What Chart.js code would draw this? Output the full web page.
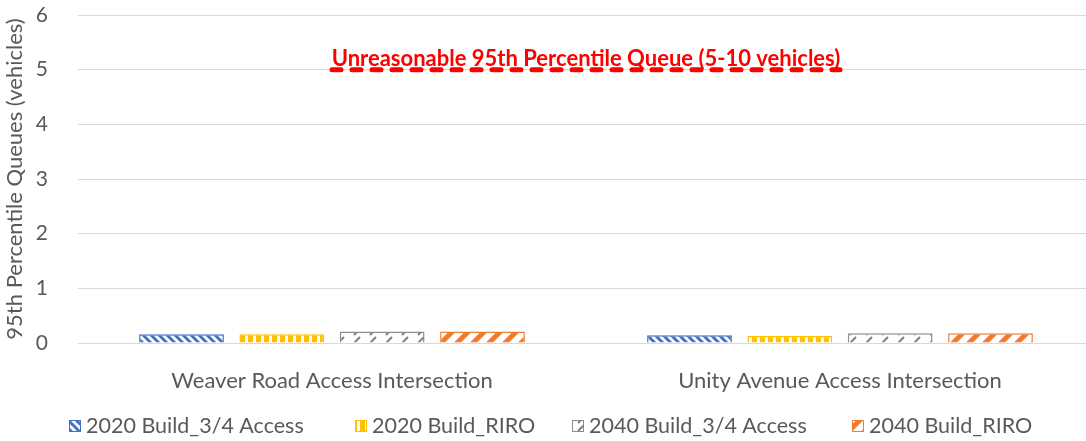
<!DOCTYPE html>
<html>
<head>
<meta charset="utf-8">
<script src="https://cdn.jsdelivr.net/npm/chart.js@4"></script>
<style>
  html, body { margin: 0; padding: 0; background: #fff; overflow: hidden; }
  /* the original plot area runs a few pixels past the right edge of the picture */
  #wrap { width: 1094px; height: 441px; position: relative; }
</style>
</head>
<body>
<div id="wrap"><canvas id="queueChart"></canvas></div>
<script>
  'use strict';

  // data
  var categories = ['Weaver Road Access Intersection', 'Unity Avenue Access Intersection'];
  var seriesNames = ['2020 Build_3/4 Access', '2020 Build_RIRO', '2040 Build_3/4 Access', '2040 Build_RIRO'];
  var build2020Access = [0.16, 0.14];
  var build2020Riro = [0.16, 0.13];
  var build2040Access = [0.21, 0.18];
  var build2040Riro = [0.21, 0.18];
  var thresholdValues = [5, 5];
  var thresholdLabel = 'Unreasonable 95th Percentile Queue (5-10 vehicles)';

  var font = "Lato, 'Open Sans', sans-serif";
  var textColor = '#595959';

  function makePattern(w, h, color, draw) {
    var c = document.createElement('canvas');
    c.width = w; c.height = h;
    var g = c.getContext('2d');
    g.fillStyle = '#ffffff';
    g.fillRect(0, 0, w, h);
    g.fillStyle = color;
    g.strokeStyle = color;
    draw(g, w, h);
    return document.createElement('canvas').getContext('2d').createPattern(c, 'repeat');
  }

  var blueFill = makePattern(8, 8, '#4472c4', function (g, s) {
    g.lineWidth = 3;
    g.beginPath();
    g.moveTo(0, 0); g.lineTo(s, s);
    g.moveTo(-s, 0); g.lineTo(s, 2 * s);
    g.moveTo(0, -s); g.lineTo(2 * s, s);
    g.stroke();
  });
  var yellowFill = makePattern(8, 8, '#ffc000', function (g, w, h) {
    g.fillRect(0, 0, 5, h);
  });
  var grayFill = makePattern(16, 8, '#7f7f7f', function (g) {
    g.lineWidth = 2;
    g.beginPath();
    g.moveTo(2, 7); g.lineTo(8, 1);
    g.stroke();
  });
  var orangeFill = makePattern(16, 16, '#ed7d31', function (g, s) {
    g.lineWidth = 5;
    g.beginPath();
    g.moveTo(0, s); g.lineTo(s, 0);
    g.moveTo(-s / 2, s / 2); g.lineTo(s / 2, -s / 2);
    g.moveTo(s / 2, s * 1.5); g.lineTo(s * 1.5, s / 2);
    g.stroke();
  });
  var fills = [blueFill, yellowFill, grayFill, orangeFill];
  var borders = ['#4472c4', '#ffc000', '#8c8c8c', '#ed7d31'];

  function barSet(i, data) {
    return {
      type: 'bar',
      label: seriesNames[i],
      data: data,
      backgroundColor: fills[i],
      borderColor: borders[i],
      borderWidth: 1.5,
      categoryPercentage: 0.79,
      barPercentage: 0.845,
      order: 2
    };
  }

  // threshold caption above the dashed line, plus a legend spaced like the original
  var extrasPlugin = {
    id: 'extras',
    afterDatasetsDraw: function (chart) {
      var meta = chart.getDatasetMeta(4);
      var p0 = meta.data[0], p1 = meta.data[meta.data.length - 1];
      var g = chart.ctx;
      g.save();
      g.font = "bold 22px " + font;
      g.fillStyle = '#ff0000';
      g.textAlign = 'center';
      g.textBaseline = 'alphabetic';
      g.fillText(thresholdLabel, (p0.x + p1.x) / 2, p0.y - 4);
      g.restore();
    },
    afterDraw: function (chart) {
      var g = chart.ctx;
      var starts = [69, 355, 572, 852];
      var y = 426;
      g.save();
      g.font = "21.5px " + font;
      g.textBaseline = 'middle';
      g.textAlign = 'left';
      for (var i = 0; i < seriesNames.length; i++) {
        var x = starts[i];
        g.fillStyle = fills[i];
        g.fillRect(x, y - 6, 12, 12);
        g.strokeStyle = borders[i];
        g.lineWidth = 1;
        g.strokeRect(x + 0.5, y - 5.5, 11, 11);
        g.fillStyle = textColor;
        g.fillText(seriesNames[i], x + 17, y);
      }
      g.restore();
    }
  };

  new Chart(document.getElementById('queueChart'), {
    data: {
      labels: categories,
      datasets: [
        barSet(0, build2020Access),
        barSet(1, build2020Riro),
        barSet(2, build2040Access),
        barSet(3, build2040Riro),
        {
          type: 'line',
          label: 'threshold',
          data: thresholdValues,
          borderColor: '#ff0000',
          borderWidth: 5,
          borderDash: [9, 11],
          borderCapStyle: 'round',
          pointRadius: 0,
          fill: false,
          order: 1
        }
      ]
    },
    plugins: [extrasPlugin],
    options: {
      responsive: true,
      maintainAspectRatio: false,
      animation: false,
      layout: { padding: { left: 2, right: 0, top: 0, bottom: 40 } },
      plugins: {
        tooltip: { enabled: false },
        legend: { display: false }
      },
      scales: {
        x: {
          grid: { display: false },
          border: { color: '#d9d9d9', width: 1 },
          ticks: { color: textColor, font: { family: font, size: 22 }, padding: 17, maxRotation: 0 },
          afterFit: function (axis) { axis.height = 58; }
        },
        y: {
          min: 0,
          max: 6,
          ticks: { stepSize: 1, color: textColor, font: { family: font, size: 21 }, padding: 30 },
          grid: { color: '#d9d9d9', drawTicks: false },
          border: { display: false },
          title: {
            display: true,
            text: '95th Percentile Queues (vehicles)',
            color: textColor,
            font: { family: font, size: 22 },
            padding: { top: 0, bottom: 4 }
          },
          afterFit: function (axis) {
            axis.width = 76;
            axis.paddingTop = 15;
            axis.paddingBottom = 0;
          }
        }
      }
    }
  });
</script>
</body>
</html>
